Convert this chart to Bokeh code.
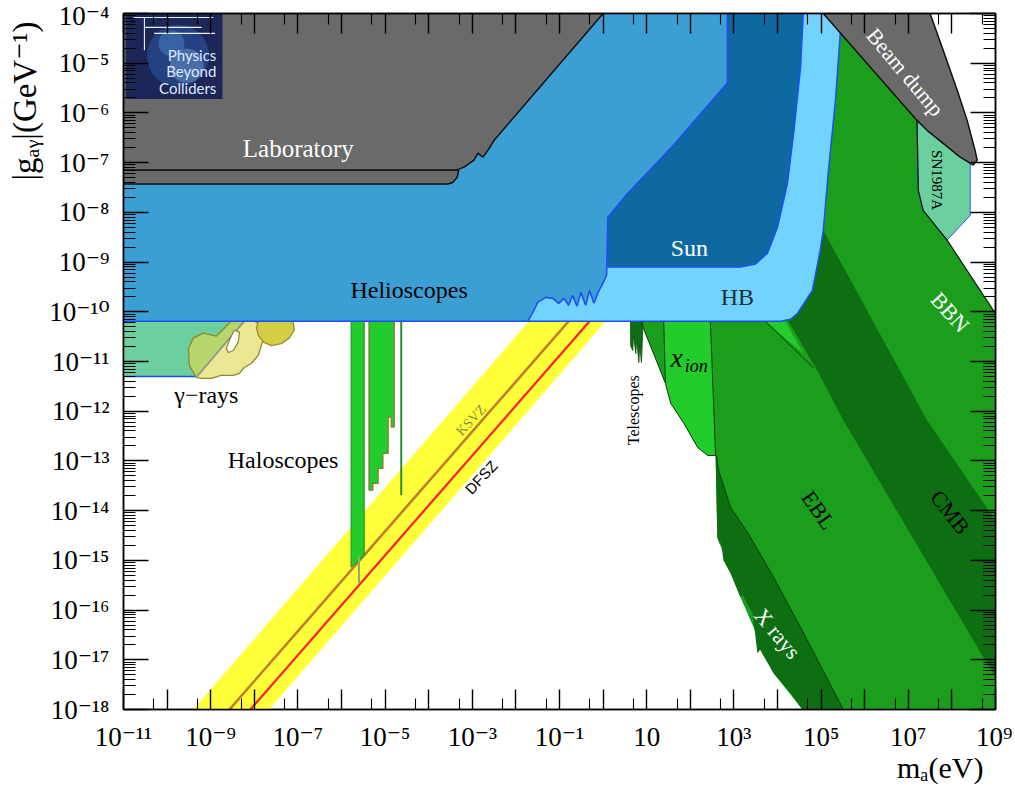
from bokeh.plotting import figure
from bokeh.models import FixedTicker, LogAxis, CustomJSTickFormatter, Title, Range1d
from bokeh.core.properties import value
from bokeh.embed import file_html
from bokeh.resources import INLINE


def E(a):
    return [10.0 ** v for v in a]

# ---------------- axis ticks ----------------
x_major_exp = list(range(-11, 10))
x_tick_labels = ["10⁻¹¹", "", "10⁻⁹", "", "10⁻⁷", "", "10⁻⁵", "", "10⁻³", "", "10⁻¹", "",
                 "10", "", "10³", "", "10⁵", "", "10⁷", "", "10⁹"]
x_minor = [5 * 10.0 ** e for e in range(-12, 9)]
y_major_exp = list(range(-18, -3))
y_tick_labels = ["10⁻¹⁸", "10⁻¹⁷", "10⁻¹⁶", "10⁻¹⁵", "10⁻¹⁴", "10⁻¹³", "10⁻¹²", "10⁻¹¹",
                 "10⁻¹⁰", "10⁻⁹", "10⁻⁸", "10⁻⁷", "10⁻⁶", "10⁻⁵", "10⁻⁴"]
y_minor = [k * 10.0 ** e for e in range(-19, -4) for k in range(2, 10)]

# ---------------- regions (log10 m [eV], log10 g [GeV^-1]) ----------------
lab1_logm = [-11, 0.0, -2.50, -2.64, -2.76, -2.87, -2.96, -3.19, -3.37, -11]
lab1_logg = [-4.0, -4.0, -6.55, -6.75, -6.89, -6.81, -6.95, -7.09, -7.15, -7.15]
lab2_logm = [-11, -3.31, -3.35, -3.45, -3.56, -11]
lab2_logg = [-7.15, -7.15, -7.30, -7.40, -7.43, -7.43]

helio_logm = [-11, 2.85, 2.85, 1.55, 0.56, 0.11, 0.08, 0.01, -0.12, -0.21, -0.31, -0.40, -0.51,
              -0.60, -0.70, -0.79, -0.90, -1.02, -1.15, -1.31, -1.50, -1.61, -1.73, -11]
helio_logg = [-4.0, -4.0, -5.40, -6.71, -7.62, -8.10, -9.26, -9.40, -9.62, -9.83, -9.57, -9.87, -9.61,
              -9.89, -9.67, -9.87, -9.73, -9.83, -9.73, -9.71, -9.81, -10.01, -10.19, -10.19]

sun_logm = [0.11, 0.11, 0.56, 1.55, 2.85, 2.85, 4.59, 4.53, 4.37, 4.23, 4.00, 3.77, 3.50, 3.15]
sun_logg = [-9.10, -8.10, -7.62, -6.71, -5.40, -4.0, -4.0, -5.08, -6.41, -7.41, -8.30, -8.82, -9.04, -9.10]

hb_logm = [-2.5, 4.07, 4.30, 4.46, 4.80, 4.98, 5.05, 5.17, 5.33, 5.44, 5.49, -2.5]
hb_logg = [-10.19, -10.19, -10.15, -10.03, -9.57, -8.76, -8.36, -7.15, -5.74, -4.40, -4.0, -4.0]

gam_logm = [-11, -8.30, -9.33, -11]
gam_logg = [-10.19, -10.19, -11.30, -11.30]
blob1_logm = [-9.33, -9.49, -9.51, -9.40, -9.17, -8.87, -8.69, -8.53, -8.23]
blob1_logg = [-11.32, -11.08, -10.74, -10.53, -10.43, -10.49, -10.33, -10.19, -10.19]
blob2_logm = [-9.33, -8.23, -8.00, -7.84, -7.77, -7.84, -7.91, -8.07, -8.23, -8.34, -8.48, -8.76, -8.98, -9.21]
blob2_logg = [-11.32, -10.19, -10.19, -10.27, -10.51, -10.68, -10.88, -11.04, -11.12, -11.24, -11.28, -11.28, -11.34, -11.34]
hole_logm = [-8.46, -8.34, -8.37, -8.48, -8.60, -8.64, -8.57]
hole_logg = [-10.37, -10.41, -10.61, -10.78, -10.82, -10.74, -10.57]
blob3_logm = [-7.91, -7.11, -7.08, -7.20, -7.38, -7.61, -7.79, -7.91, -7.95]
blob3_logg = [-10.19, -10.19, -10.37, -10.53, -10.64, -10.68, -10.61, -10.47, -10.33]

band_logm = [-9.40, -7.66, 0.06, -1.70]
band_logg = [-18.0, -18.0, -10.19, -10.19]
ksvz_logm = [-8.57, -0.79]
ksvz_logg = [-18.0, -10.19]
dfsz_logm = [-8.09, -0.31]
dfsz_logg = [-18.0, -10.19]

haloA_logm = [-5.78, -5.78, -5.48, -5.48]
haloA_logg = [-10.19, -15.14, -14.90, -10.19]
haloA2_logm = [-5.60, -5.60]
haloA2_logg = [-14.90, -15.46]
haloB_logm = [-5.37, -5.37, -5.28, -5.28, -5.16, -5.16, -5.05, -5.05, -4.93, -4.93, -4.86, -4.86, -4.79, -4.79]
haloB_logg = [-10.19, -13.59, -13.59, -13.45, -13.45, -13.15, -13.15, -12.85, -12.85, -12.12, -12.12, -12.32, -12.32, -10.19]
haloC_logm = [-4.63, -4.63]
haloC_logg = [-10.19, -13.69]

tel_logm = [0.63, 0.63, 0.68, 0.70, 0.75, 0.77, 0.82, 0.84, 0.88, 0.91, 0.91]
tel_logg = [-10.19, -10.68, -10.78, -10.47, -10.84, -10.57, -11.02, -10.68, -11.02, -10.37, -10.19]

mg_logm = [0.86, 1.43, 1.55, 1.85, 2.17, 2.40, 2.58, 2.62, 3.15, 3.91, 4.57, 9.0, 9.0, 8.95, 7.89, 7.34, 7.23, 7.20, 5.05, 2.24, 2.24]
mg_logg = [-10.19, -11.44, -11.84, -12.24, -12.73, -12.89, -12.89, -14.54, -15.74, -17.27, -18.0, -18.0, -9.97, -9.97, -8.56, -7.96, -7.56, -6.15, -4.0, -4.0, -10.19]

cmb_logm = [5.05, 7.43, 9.0, 9.0, 8.72, 5.51, 4.91, 4.25, 4.87]
cmb_logg = [-8.36, -12.18, -14.20, -17.35, -16.95, -12.18, -11.18, -10.19, -9.17]

xr_logm = [2.58, 2.62, 2.69, 2.70, 2.76, 2.92, 3.15, 3.20, 3.43, 3.54, 3.60, 3.91, 4.30, 4.57, 5.51, 4.53, 3.91, 3.33, 2.92, 2.65, 2.60]
xr_logg = [-12.89, -14.54, -14.70, -14.60, -15.00, -15.26, -15.74, -15.70, -16.07, -16.87, -16.80, -17.27, -17.67, -18.0, -18.0, -16.35, -15.34, -14.46, -13.93, -13.19, -12.89]

xion_logm = [1.39, 2.46, 2.58, 2.40, 2.17, 1.85, 1.55, 1.43]
xion_logg = [-10.19, -10.19, -12.89, -12.89, -12.73, -12.24, -11.84, -11.44]

tri_logm = [3.72, 4.18, 4.59]
tri_logg = [-10.19, -10.19, -10.84]

sn_logm = [7.20, 8.42, 8.42, 7.89, 7.34, 7.23]
sn_logg = [-6.15, -7.01, -8.06, -8.56, -7.96, -7.56]

bd_logm = [5.05, 7.50, 7.80, 8.12, 8.35, 8.53, 8.58, 8.49, 8.19, 7.43, 7.20]
bd_logg = [-4.0, -4.0, -4.74, -5.54, -6.15, -6.75, -6.95, -7.05, -6.89, -6.35, -6.15]

bbn_edge_logm = [7.20, 7.23, 7.34, 7.89, 8.95, 9.0]
bbn_edge_logg = [-6.15, -7.56, -7.96, -8.56, -9.97, -10.03]
ebl_edge_logm = [2.60, 2.65, 2.92, 3.33, 3.91, 4.53, 5.51]
ebl_edge_logg = [-12.89, -13.19, -13.93, -14.46, -15.34, -16.35, -18.0]
wedge_logm = [0.86, 1.43]
wedge_logg = [-10.19, -11.44]
tri_edge_logm = [3.72, 4.82]
tri_edge_logg = [-10.19, -11.12]
gam_edge_logm = [-11, -9.33]
gam_edge_logg = [-11.30, -11.30]

# ---------------- figure ----------------
FONT = "Liberation Serif, DejaVu Serif"
p = figure(width=1012, height=786, x_axis_type="log", y_axis_type="log",
           x_range=Range1d(1e-11, 1e9), y_range=Range1d(1e-18, 1e-4),
           output_backend="svg", toolbar_location=None,
           min_border_left=122, min_border_right=17, min_border_top=13, min_border_bottom=77)
p.grid.visible = False
p.outline_line_color = "black"
p.outline_line_width = 1.5
p.background_fill_color = "white"

fmt_code = """
const e = Math.round(Math.log10(tick));
const i = exps.indexOf(e);
return i >= 0 ? labels[i] : "";
"""
blank_code = "return '';"


def style_axis(ax, exps, minor, labels, major_len, minor_len):
    ax.ticker = FixedTicker(ticks=E(exps), minor_ticks=minor)
    if labels is not None:
        ax.formatter = CustomJSTickFormatter(code=fmt_code, args=dict(exps=exps, labels=labels))
        ax.major_label_text_font = FONT
        ax.major_label_text_font_size = "27px"
        ax.major_label_text_color = "black"
        ax.major_label_standoff = 12
    else:
        ax.formatter = CustomJSTickFormatter(code=blank_code)
        ax.major_label_text_font_size = "8px"
        ax.major_label_standoff = 0
    ax.major_tick_in = major_len
    ax.major_tick_out = 0
    ax.minor_tick_in = minor_len
    ax.minor_tick_out = 0
    ax.major_tick_line_color = "black"
    ax.minor_tick_line_color = "black"
    ax.major_tick_line_width = 1.4
    ax.minor_tick_line_width = 1.1
    ax.axis_line_color = "black"
    ax.axis_line_width = 1.5


style_axis(p.xaxis[0], x_major_exp, x_minor, x_tick_labels, 20, 11)
style_axis(p.yaxis[0], y_major_exp, y_minor, y_tick_labels, 25, 12)
p.yaxis[0].major_label_standoff = 14
top = LogAxis()
style_axis(top, x_major_exp, x_minor, None, 20, 11)
p.add_layout(top, "above")
right = LogAxis()
style_axis(right, y_major_exp, y_minor, None, 25, 12)
p.add_layout(right, "right")

# ---------------- colours ----------------
GRAY = "#6a6a6a"
HELIO = "#3c9fd3"
SUN = "#0f69a1"
HBC = "#72d4fe"
BLUE_EDGE = "#1d4ff2"
TEAL = "#6ccf9f"
MGREEN = "#1a9e1c"
DGREEN = "#0d6e12"
LGREEN = "#22cc2a"
YELLOW = "#ffff3a"


def patch(lm, lg, fill, line=None, lw=1.0):
    p.patch(E(lm), E(lg), fill_color=fill, line_color=line, line_width=lw)


def line(lm, lg, color, lw=1.0):
    p.line(E(lm), E(lg), line_color=color, line_width=lw)

# QCD axion band
patch(band_logm, band_logg, YELLOW)
line(ksvz_logm, ksvz_logg, "#c27a2c", 2.6)
line(dfsz_logm, dfsz_logg, "#ff1e1e", 2.2)

# haloscopes
patch(haloA_logm, haloA_logg, LGREEN, "#1e8c1e", 1.0)
line(haloA2_logm, haloA2_logg, "#7db65a", 2.0)
patch(haloB_logm, haloB_logg, LGREEN, "#857a2c", 1.2)
line(haloC_logm, haloC_logg, "#2e8b2e", 2.0)

# gamma rays
patch(gam_logm, gam_logg, TEAL)
line(gam_edge_logm, gam_edge_logg, BLUE_EDGE, 1.5)
patch(blob1_logm, blob1_logg, "#b6d56c", "#8c8a30", 1.3)
patch(blob2_logm, blob2_logg, "#ebe792", "#8c8a30", 1.3)
line([blob1_logm[0], blob1_logm[-1]], [blob1_logg[0], blob1_logg[-1]], "#9a9a9a", 1.5)
patch(hole_logm, hole_logg, "white", "#8c8a30", 1.2)
patch(blob3_logm, blob3_logg, "#d5cd46", "#9a9030", 1.3)

# cosmology / astro greens
patch(mg_logm, mg_logg, MGREEN)
patch(cmb_logm, cmb_logg, DGREEN)
patch(xr_logm, xr_logg, DGREEN)
patch(xion_logm, xion_logg, LGREEN, "#0b3d0b", 1.0)
patch(tri_logm, tri_logg, LGREEN)
patch(tel_logm, tel_logg, DGREEN, "#0b4d0b", 0.8)
line(wedge_logm, wedge_logg, "#0b3d0b", 1.0)
line(tri_edge_logm, tri_edge_logg, "#0b3d0b", 1.0)
line(ebl_edge_logm, ebl_edge_logg, "#0b3d0b", 1.0)

# helioscopes, HB, Sun, laboratory
patch(hb_logm, hb_logg, HBC, BLUE_EDGE, 1.5)
patch(sun_logm, sun_logg, SUN, BLUE_EDGE, 1.5)
patch(helio_logm, helio_logg, HELIO, BLUE_EDGE, 1.6)
patch(lab2_logm, lab2_logg, GRAY, "#111111", 1.5)
patch(lab1_logm, lab1_logg, GRAY, "#111111", 1.5)

# SN1987A and beam dump
patch(sn_logm, sn_logg, TEAL, "#2a5ae8", 1.0)
line(bbn_edge_logm, bbn_edge_logg, "#111111", 1.2)
patch(bd_logm, bd_logg, GRAY, "#111111", 1.5)

# ---------------- logo ----------------
p.quad(left=[10 ** -10.95], right=[10 ** -8.73], top=[1e-4], bottom=[10 ** -5.72],
       fill_color="#1c2657", line_color=None)
p.scatter(x=E([-9.75, -9.55, -9.9]), y=E([-4.85, -5.05, -4.6]), size=[62, 34, 26], marker="circle",
          fill_color=["#2e63b5", "#8cc1f2", "#5fa0e6"], fill_alpha=[0.45, 0.35, 0.35], line_color=None)
p.multi_line(xs=[E([-10.77, -8.94]), E([-10.52, -10.52]), E([-10.52, -9.21]), E([-10.30, -8.90])],
             ys=[E([-4.08, -4.08]), E([-4.08, -4.74]), E([-4.28, -4.28]), E([-4.40, -4.40])],
             line_color="#e8f0ff", line_width=1.1)
p.text(x=E([-8.87, -8.87, -8.87]), y=E([-4.84, -5.16, -5.50]), text=["Physics", "Beyond", "Colliders"],
       text_font=value("Lato"), text_font_size="15px", text_color="#dfe8ff",
       text_align="right", text_baseline="middle")

# ---------------- labels ----------------
SERIF = value(FONT)


def txt(lm, lg, s, color="black", size="24px", angle=0.0, font=SERIF, style="normal", align="center"):
    p.text(x=[10 ** lm], y=[10 ** lg], text=[s], text_font=font, text_font_size=size,
           text_color=color, angle=angle, angle_units="deg", text_align=align,
           text_baseline="middle", text_font_style=style)


txt(-6.99, -6.71, "Laboratory", "white", "25px")
txt(-4.45, -9.57, "Helioscopes")
txt(1.98, -8.72, "Sun", "white")
txt(3.08, -9.71, "HB", "#163434")
txt(-9.10, -11.68, "γ−rays")
txt(-7.34, -12.99, "Haloscopes")
txt(-3.03, -12.18, "KSVZ", "#8c8c3c", "14px", 47)
txt(-2.80, -13.33, "DFSZ", "black", "15px", 47, value("Liberation Sans"))
txt(0.70, -11.98, "Telescopes", "black", "16px", 90)
txt(1.69, -10.93, "x", "black", "27px", 0, SERIF, "italic")
txt(1.87, -11.10, "ion", "black", "18px", 0, SERIF, "italic", "left")
txt(7.96, -10.01, "BBN", "white", "22px", -48)
txt(7.96, -14.03, "CMB", "black", "22px", -52)
txt(4.94, -13.99, "EBL", "black", "22px", -55)
txt(4.00, -16.47, "X rays", "white", "22px", -50)
txt(6.93, -5.18, "Beam dump", "white", "22px", -50)
txt(7.66, -7.35, "SN1987A", "black", "15px", -90)

# axis titles
p.add_layout(Title(text="|gₐᵧ|(GeV⁻¹)", align="right", text_font=FONT, text_font_size="33px",
                   text_font_style="normal", text_color="black", standoff=8, offset=8), "left")
p.add_layout(Title(text="mₐ(eV)", align="right", text_font=FONT, text_font_size="30px",
                   text_font_style="normal", text_color="black", standoff=-12, offset=12), "below")

open("out.html", "w").write(file_html(p, INLINE))
